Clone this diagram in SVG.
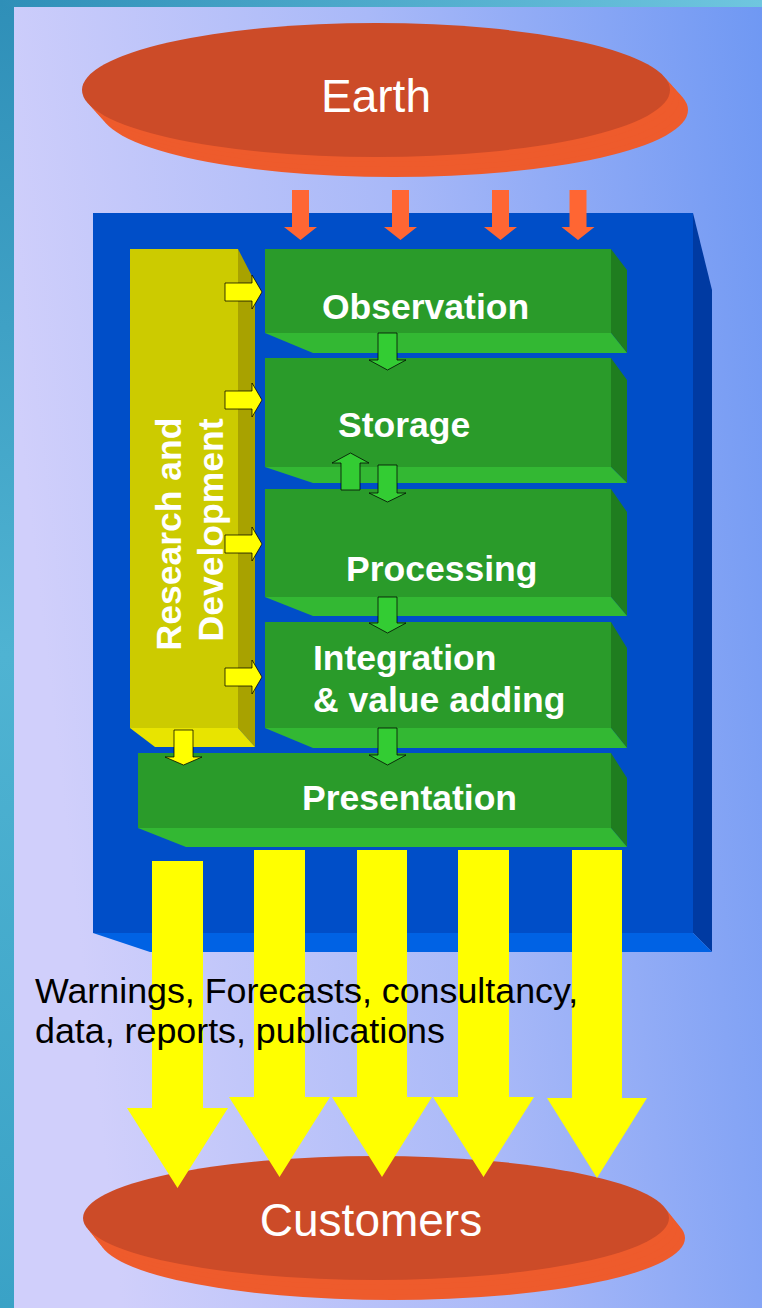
<svg xmlns="http://www.w3.org/2000/svg" width="762" height="1308" viewBox="0 0 762 1308">
<defs>
<linearGradient id="bg" x1="0" y1="0.2" x2="1" y2="0">
<stop offset="0" stop-color="#d0cffb"/>
<stop offset="0.5" stop-color="#a9b9f8"/>
<stop offset="1" stop-color="#6f98f3"/>
</linearGradient>
<linearGradient id="teal" x1="0" y1="0" x2="0" y2="1">
<stop offset="0" stop-color="#2f8fb8"/>
<stop offset="0.5" stop-color="#4fb3d2"/>
<stop offset="1" stop-color="#3aa2c6"/>
</linearGradient>
<linearGradient id="tealTop" x1="0" y1="0" x2="1" y2="0">
<stop offset="0" stop-color="#2f8fb8"/>
<stop offset="1" stop-color="#6fc6df"/>
</linearGradient>
</defs>
<style>
.lbl{font-family:"Liberation Sans",Arial,sans-serif;font-weight:bold;font-size:35.5px;fill:#ffffff}
.big{font-family:"Liberation Sans",Arial,sans-serif;font-size:46px;fill:#ffffff}
.cap{font-family:"Liberation Sans",Arial,sans-serif;font-size:35.8px;fill:#000000}
.gf{fill:#2a9b2a}
.gs{fill:#1f7d1f}
.gb{fill:#33b833}
.top{fill:#cc4b28}
.side{fill:#ee5b2c}
.orange{fill:#ff6633}
.garrow{fill:#33cc33;stroke:#000;stroke-width:1;stroke-opacity:0.75}
.yarrow{fill:#ffff00;stroke:#000;stroke-width:1;stroke-opacity:0.75}
.ybig{fill:#ffff00}
</style>

<g id="background">
<rect x="0" y="0" width="762" height="1308" fill="url(#bg)"/>
<rect x="0" y="0" width="14" height="1308" fill="url(#teal)"/>
<rect x="0" y="0" width="762" height="7" fill="url(#tealTop)"/>
</g>

<g id="node-earth">
<ellipse class="side" cx="394" cy="110" rx="294" ry="67"/>
<ellipse class="side" cx="389.5" cy="105" rx="294" ry="67"/>
<ellipse class="side" cx="385" cy="100" rx="294" ry="67"/>
<ellipse class="side" cx="380.5" cy="95" rx="294" ry="67"/>
<ellipse class="top" cx="376" cy="90" rx="294" ry="67"/>
<text class="big" x="376" y="112" text-anchor="middle">Earth</text>
</g>

<g id="node-frame">
<polygon points="693,213 712,290 712,952 693,933" fill="#003aa2"/>
<polygon points="93,933 693,933 712,952 150,952" fill="#0062e4"/>
<rect x="93" y="213" width="600" height="720" fill="#004ec8"/>
</g>

<g id="node-research">
<polygon points="238,249 255,282 255,747 238,728" fill="#a8a200"/>
<polygon points="130,728 238,728 255,747 155,747" fill="#e8e400"/>
<rect x="130" y="249" width="108" height="479" fill="#cccb00"/>
<text class="lbl" transform="translate(181,534) rotate(-90)" text-anchor="middle">Research and</text>
<text class="lbl" transform="translate(223,530) rotate(-90)" text-anchor="middle">Development</text>
</g>

<g id="node-observation">
<polygon class="gs" points="611,249 627,270 627,353 611,333"/>
<polygon class="gb" points="265,333 611,333 627,353 313,353"/>
<rect class="gf" x="265" y="249" width="346" height="84"/>
<text class="lbl" x="322" y="319">Observation</text>
</g>

<g id="node-storage">
<polygon class="gs" points="611,358 627,380 627,483 611,467"/>
<polygon class="gb" points="265,467 611,467 627,483 313,483"/>
<rect class="gf" x="265" y="358" width="346" height="109"/>
<text class="lbl" x="338" y="437">Storage</text>
</g>

<g id="node-processing">
<polygon class="gs" points="611,489 627,512 627,616 611,597"/>
<polygon class="gb" points="265,597 611,597 627,616 313,616"/>
<rect class="gf" x="265" y="489" width="346" height="108"/>
<text class="lbl" x="346" y="581">Processing</text>
</g>

<g id="node-integration">
<polygon class="gs" points="611,622 627,648 627,748 611,728"/>
<polygon class="gb" points="265,728 611,728 627,748 313,748"/>
<rect class="gf" x="265" y="622" width="346" height="106"/>
<text class="lbl" x="313" y="670">Integration</text>
<text class="lbl" x="313" y="712">&amp; value adding</text>
</g>

<g id="node-presentation">
<polygon class="gs" points="611,753 627,778 627,847 611,828"/>
<polygon class="gb" points="138,828 611,828 627,847 186,847"/>
<rect class="gf" x="138" y="753" width="473" height="75"/>
<text class="lbl" x="302" y="810">Presentation</text>
</g>

<g id="node-customers">
<ellipse class="side" cx="392" cy="1238" rx="293" ry="62"/>
<ellipse class="side" cx="388" cy="1233" rx="293" ry="62"/>
<ellipse class="side" cx="384" cy="1228" rx="293" ry="62"/>
<ellipse class="side" cx="380" cy="1223" rx="293" ry="62"/>
<ellipse class="top" cx="376" cy="1218" rx="293" ry="62"/>
<text class="big" x="371" y="1236" text-anchor="middle">Customers</text>
</g>

<g id="connectors">
<path class="orange" d="M292,190 H309 V227 H317 L300.5,240 L284,227 H292 Z"/>
<path class="orange" d="M392,190 H409 V227 H417 L400.5,240 L384,227 H392 Z"/>
<path class="orange" d="M492,190 H509 V227 H517 L500.5,240 L484,227 H492 Z"/>
<path class="orange" d="M569.5,190 H586.5 V227 H594.5 L578,240 L561.5,227 H569.5 Z"/>

<path class="yarrow" d="M225,283 H252 V275 L262,292 L252,309 V301 H225 Z"/>
<path class="yarrow" d="M225,391 H252 V383 L262,400 L252,417 V409 H225 Z"/>
<path class="yarrow" d="M225,535 H252 V527 L262,544 L252,561 V553 H225 Z"/>
<path class="yarrow" d="M225,668 H252 V660 L262,677 L252,694 V686 H225 Z"/>
<path class="yarrow" d="M174,730 H193 V757 H202 L183.5,765 L165,757 H174 Z"/>

<path class="garrow" d="M378,333 H397 V360 H406 L387.5,370 L369,360 H378 Z"/>
<path class="garrow" d="M341,490 H360 V463 H369 L350.5,453 L332,463 H341 Z"/>
<path class="garrow" d="M378,465 H397 V493 H406 L387.5,502 L369,493 H378 Z"/>
<path class="garrow" d="M378,597 H397 V623 H406 L387.5,633 L369,623 H378 Z"/>
<path class="garrow" d="M378,728 H397 V755 H406 L387.5,765 L369,755 H378 Z"/>

<path class="ybig" d="M152,861 H203 V1108 H228 L177.5,1188 L127,1108 H152 Z"/>
<path class="ybig" d="M254,850 H305 V1097 H330 L279.5,1177 L229,1097 H254 Z"/>
<path class="ybig" d="M357,850 H407 V1097 H432 L382,1177 L332,1097 H357 Z"/>
<path class="ybig" d="M458,850 H509 V1097 H534 L483.5,1177 L433,1097 H458 Z"/>
<path class="ybig" d="M572,850 H622 V1098 H647 L597,1178 L547,1098 H572 Z"/>
</g>

<g id="caption">
<text class="cap" x="35" y="1003">Warnings, Forecasts, consultancy,</text>
<text class="cap" x="35" y="1043">data, reports, publications</text>
</g>
</svg>
